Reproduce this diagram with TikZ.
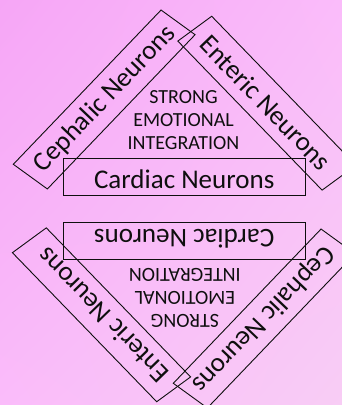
\documentclass[tikz,border=0pt]{standalone}
\usepackage{fontspec}
\setmainfont{Carlito}
\usetikzlibrary{shadings}
\begin{document}
\begin{tikzpicture}[x=1pt,y=1pt]
\definecolor{bgA}{RGB}{246,166,246}
\definecolor{bgB}{RGB}{250,188,250}
\definecolor{bgC}{RGB}{248,205,245}
\definecolor{ink}{RGB}{15,15,15}
\tikzset{
  boxshape/.style={draw=ink, line width=0.9pt, inner sep=0pt},
  bigtext/.style={text=ink, inner sep=0pt, font=\fontsize{27}{30}\selectfont},
  midtext/.style={text=ink, align=center, inner sep=0pt,
    font=\fontsize{20}{22.8}\selectfont},
  half/.pic={
    % boxes (slightly squashed vertically, as in the reference)
    \node[boxshape, yscale=0.87, rotate=50.2,
      minimum width=230.8pt, minimum height=44.3pt] (-ceph) at (-80,109.5) {};
    \node[boxshape, yscale=0.87, rotate=-49.9,
      minimum width=224pt, minimum height=44.3pt] (-ent) at (82.7,105.8) {};
    \node[boxshape, minimum width=242pt, minimum height=37.5pt]
      (-card) at (0.2,31.8) {};
    % labels
    \node[bigtext, rotate=46.25] (-cephT) at (-79,110) {Cephalic Neurons};
    \node[bigtext, rotate=-45.9] (-entT) at (81.5,106.5) {Enteric Neurons};
    \node[bigtext] (-cardT) at (0,30.1) {Cardiac Neurons};
    \node[midtext] (-mid) at (-0.7,89) {STRONG\\EMOTIONAL\\INTEGRATION};
  }
}
\clip (0,0) rectangle (342,405);
\shade[upper left=bgA, upper right=bgB, lower left=bgB, lower right=bgC]
  (0,0) rectangle (342,405);
\begin{scope}[transform shape]
  \pic (top) at (184.2,196) {half};
  \pic[rotate=180] (bot) at (184.2,196) {half};
\end{scope}
\end{tikzpicture}
\end{document}
